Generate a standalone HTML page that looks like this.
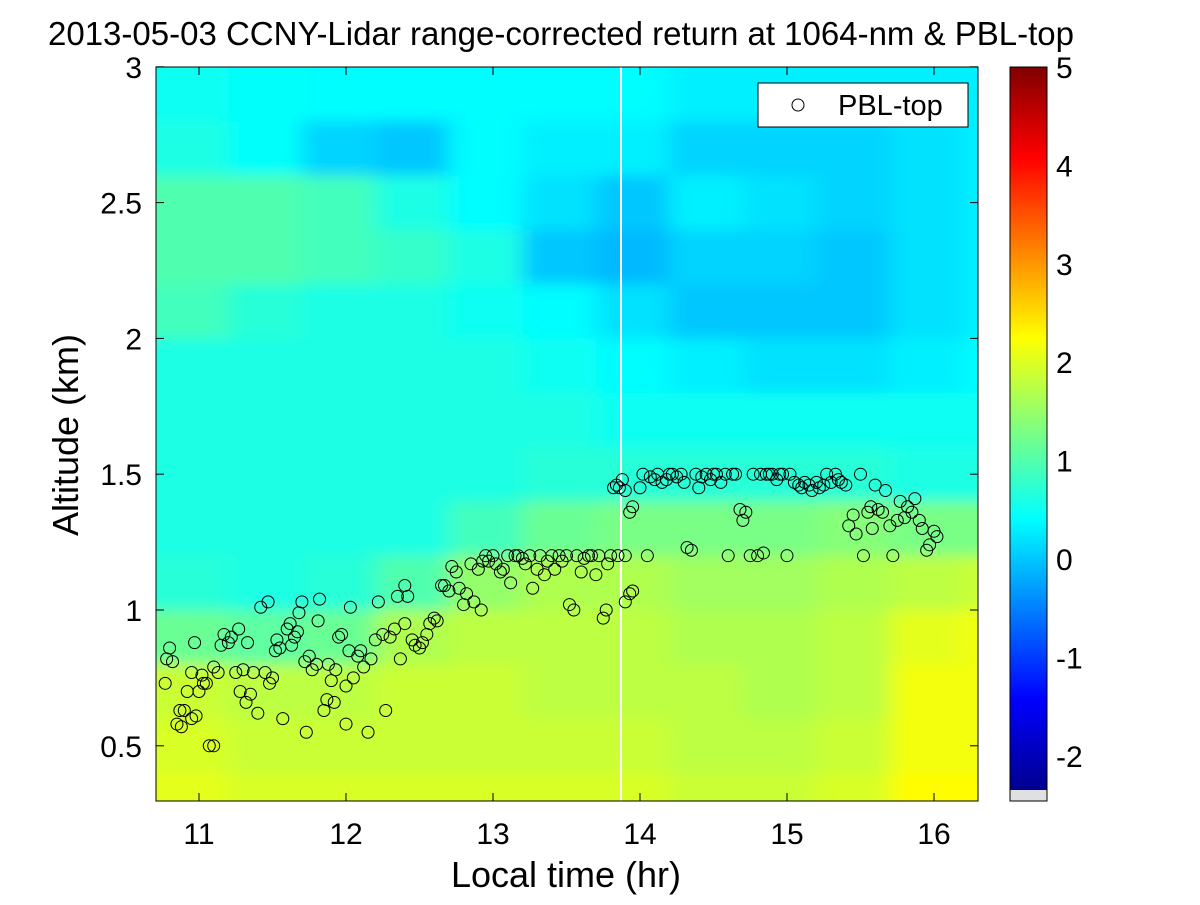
<!DOCTYPE html>
<html><head><meta charset="utf-8"><style>
body{margin:0;background:#fff;}
svg text{font-family:"Liberation Sans",Arial,sans-serif;}
</style></head><body>
<svg id="chart" width="1200" height="900" xmlns="http://www.w3.org/2000/svg">
<defs>
<clipPath id="plotclip"><rect x="156" y="67" width="822" height="734"/></clipPath>
<filter id="blur" x="-10%" y="-10%" width="120%" height="120%"><feGaussianBlur stdDeviation="11 7"/></filter>
<linearGradient id="jetbar" x1="0" y1="1" x2="0" y2="0">
<stop offset="0" stop-color="#00008f"/><stop offset="0.125" stop-color="#0000ff"/>
<stop offset="0.375" stop-color="#00ffff"/><stop offset="0.625" stop-color="#ffff00"/>
<stop offset="0.875" stop-color="#ff0000"/><stop offset="1" stop-color="#800000"/>
</linearGradient>
</defs>
<text x="561" y="45" font-size="33" text-anchor="middle">2013-05-03 CCNY-Lidar range-corrected return at 1064-nm &amp; PBL-top</text>
<g clip-path="url(#plotclip)"><rect x="156" y="67" width="822" height="734" fill="#3ce0ea"/><g id="heat" filter="url(#blur)"></g></g>
<g id="pts" clip-path="url(#plotclip)"></g>
<rect x="156" y="67" width="822" height="734" fill="none" stroke="#000" stroke-width="1"/>
<g id="axes"></g>
<g>
<rect x="758" y="83" width="210" height="44" fill="#fff" stroke="#000"/>
<circle cx="798" cy="105" r="6" fill="none" stroke="#000"/>
<text x="838" y="115" font-size="29">PBL-top</text>
</g>
<rect x="1010" y="67" width="37" height="723" fill="url(#jetbar)"/>
<rect x="1010" y="790" width="37" height="11" fill="#e0e0e0"/>
<rect x="1010" y="67" width="37" height="734" fill="none" stroke="#000"/>
<text x="566" y="887" font-size="36" text-anchor="middle">Local time (hr)</text>
<text transform="translate(78,435) rotate(-90)" font-size="36" text-anchor="middle">Altitude (km)</text>
</svg>
<script>
const xTicks=[11,12,13,14,15,16];
const yTicks=[0.5,1,1.5,2,2.5,3];
const yTickLabels=["0.5","1","1.5","2","2.5","3"];
const cTicks=[5,4,3,2,1,0,-1,-2];
const colEdges=[10.7,11.2,11.7,12.2,12.7,13.2,13.7,14.2,14.7,15.2,15.7,16.2];
const rowAlts=[2.9,2.7,2.5,2.3,2.1,1.9,1.7,1.5,1.3,1.1,0.9,0.7,0.5,0.3];
const heatVals=[
[0.4,0.35,0.3,0.3,0.3,0.3,0.3,0.2,0.2,0.2,0.2,0.2],
[0.5,0.35,0.0,-0.1,0.3,0.2,0.2,0.0,0.0,0.0,0.1,0.2],
[0.9,0.9,0.8,0.5,0.3,0.1,-0.1,0.2,0.1,0.0,0.1,0.2],
[0.9,0.9,0.8,0.7,0.5,-0.1,-0.2,0.0,0.0,-0.1,0.1,0.2],
[0.8,0.6,0.5,0.5,0.4,0.3,0.1,-0.1,-0.1,-0.1,0.1,0.2],
[0.5,0.5,0.5,0.5,0.5,0.4,0.3,0.2,0.1,0.1,0.2,0.3],
[0.5,0.5,0.5,0.5,0.5,0.5,0.4,0.4,0.4,0.4,0.4,0.4],
[0.5,0.5,0.5,0.5,0.5,0.6,0.6,0.6,0.6,0.6,0.5,0.5],
[0.5,0.5,0.5,0.5,0.8,1.1,1.2,1.2,1.2,1.3,1.2,1.2],
[0.6,0.5,0.6,0.9,1.4,1.6,1.6,1.5,1.5,1.6,1.7,1.8],
[1.1,1.0,1.1,1.6,1.7,1.7,1.7,1.6,1.6,1.7,2.0,2.1],
[1.8,1.7,1.7,1.8,1.8,1.7,1.7,1.7,1.6,1.7,2.1,2.1],
[1.9,1.8,1.8,1.8,1.8,1.8,1.8,1.7,1.7,1.8,2.1,2.1],
[2.0,1.9,1.9,1.9,1.9,1.9,1.9,1.8,1.8,1.9,2.2,2.2]];
const pblTime=[10.77,10.78,10.8,10.82,10.85,10.87,10.88,10.9,10.92,10.95,10.95,10.97,10.98,11.0,11.02,11.03,11.05,11.07,11.1,11.1,11.13,11.15,11.17,11.2,11.22,11.25,11.27,11.28,11.3,11.32,11.33,11.35,11.37,11.4,11.42,11.45,11.47,11.48,11.5,11.52,11.53,11.55,11.57,11.6,11.62,11.63,11.65,11.67,11.68,11.7,11.72,11.73,11.75,11.77,11.8,11.81,11.82,11.85,11.87,11.88,11.9,11.92,11.93,11.95,11.97,12.0,12.0,12.02,12.03,12.05,12.08,12.1,12.12,12.15,12.17,12.2,12.22,12.25,12.27,12.3,12.33,12.35,12.37,12.4,12.4,12.42,12.45,12.47,12.5,12.52,12.55,12.57,12.6,12.62,12.65,12.67,12.7,12.72,12.75,12.77,12.8,12.82,12.85,12.87,12.9,12.92,12.93,12.95,12.97,13.0,13.02,13.05,13.07,13.1,13.12,13.15,13.17,13.2,13.22,13.25,13.27,13.3,13.32,13.35,13.37,13.4,13.42,13.45,13.47,13.5,13.52,13.55,13.57,13.6,13.62,13.65,13.67,13.7,13.72,13.75,13.77,13.78,13.8,13.85,13.9,13.9,13.93,13.95,13.82,13.84,13.86,13.88,13.9,13.93,13.95,14.0,14.02,14.05,14.07,14.1,14.12,14.15,14.18,14.2,14.22,14.25,14.28,14.3,14.32,14.35,14.38,14.4,14.42,14.45,14.48,14.5,14.52,14.55,14.58,14.6,14.63,14.65,14.68,14.7,14.72,14.75,14.77,14.8,14.82,14.84,14.86,14.88,14.9,14.93,14.95,14.97,15.0,15.02,15.05,15.08,15.1,15.12,15.15,15.17,15.2,15.22,15.25,15.27,15.3,15.33,15.35,15.37,15.4,15.42,15.45,15.47,15.5,15.52,15.55,15.57,15.58,15.6,15.62,15.65,15.67,15.7,15.72,15.75,15.77,15.8,15.82,15.85,15.87,15.9,15.92,15.95,15.97,16.0,16.02,16.05,16.07,16.1,16.12];
const pblAlt=[0.73,0.82,0.86,0.81,0.58,0.63,0.57,0.63,0.7,0.6,0.77,0.88,0.61,0.7,0.76,0.73,0.73,0.5,0.79,0.5,0.77,0.87,0.91,0.88,0.9,0.77,0.93,0.7,0.78,0.66,0.88,0.69,0.77,0.62,1.01,0.77,1.03,0.73,0.75,0.85,0.89,0.86,0.6,0.93,0.95,0.87,0.9,0.92,0.99,1.03,0.81,0.55,0.83,0.78,0.8,0.96,1.04,0.63,0.67,0.8,0.74,0.66,0.78,0.9,0.91,0.72,0.58,0.85,1.01,0.75,0.83,0.85,0.79,0.55,0.82,0.89,1.03,0.91,0.63,0.9,0.93,1.05,0.82,0.95,1.09,1.05,0.89,0.87,0.86,0.88,0.91,0.95,0.97,0.96,1.09,1.09,1.07,1.16,1.14,1.08,1.02,1.06,1.17,1.03,1.15,1.0,1.18,1.2,1.18,1.2,1.17,1.14,1.15,1.2,1.1,1.2,1.2,1.19,1.17,1.2,1.08,1.15,1.2,1.13,1.18,1.2,1.15,1.2,1.18,1.2,1.02,1.0,1.2,1.14,1.19,1.2,1.2,1.13,1.2,0.97,1.0,1.17,1.2,1.2,1.2,1.03,1.06,1.07,1.45,1.46,1.45,1.48,1.44,1.36,1.38,1.45,1.5,1.2,1.49,1.48,1.5,1.47,1.48,1.5,1.5,1.49,1.5,1.47,1.23,1.22,1.5,1.45,1.49,1.5,1.48,1.5,1.5,1.47,1.5,1.2,1.5,1.5,1.37,1.33,1.36,1.2,1.5,1.2,1.5,1.21,1.5,1.5,1.5,1.48,1.5,1.5,1.2,1.5,1.47,1.46,1.45,1.47,1.46,1.44,1.47,1.45,1.46,1.5,1.47,1.5,1.48,1.47,1.46,1.31,1.35,1.28,1.5,1.2,1.36,1.38,1.3,1.46,1.37,1.36,1.44,1.31,1.2,1.33,1.4,1.34,1.38,1.36,1.41,1.33,1.3,1.22,1.24,1.29,1.27];

const NS="http://www.w3.org/2000/svg";
const xs=t=>199+(t-11)*147;
const ys=a=>610-(a-1)*271.6;
const cy=v=>67+(5-v)*98.4;
function jet(v){
  const n=Math.max(0,Math.min(1,(v+2.5)/7.5));
  const st=[[0,0,0,143],[0.125,0,0,255],[0.375,0,255,255],[0.625,255,255,0],[0.875,255,0,0],[1,128,0,0]];
  for(let i=1;i<st.length;i++){if(n<=st[i][0]){const a=st[i-1],b=st[i],f=(n-a[0])/(b[0]-a[0]);
    return `rgb(${Math.round(a[1]+f*(b[1]-a[1]))},${Math.round(a[2]+f*(b[2]-a[2]))},${Math.round(a[3]+f*(b[3]-a[3]))})`;}}
  return "rgb(128,0,0)";
}
function mk(tag,attrs,parent){const e=document.createElementNS(NS,tag);for(const k in attrs)e.setAttribute(k,attrs[k]);parent.appendChild(e);return e;}
const heat=document.getElementById('heat');
for(let r=0;r<rowAlts.length;r++){
  for(let c=0;c<colEdges.length;c++){
    let x0=xs(colEdges[c]),x1=xs(colEdges[c]+0.5);
    let y0=ys(rowAlts[r]+0.1),y1=ys(rowAlts[r]-0.1);
    if(c===0)x0-=60; if(c===colEdges.length-1)x1+=60;
    if(r===0)y0-=60; if(r===rowAlts.length-1)y1+=60;
    const e=mk('rect',{x:x0,y:y0,width:x1-x0+1,height:y1-y0+1,fill:jet(heatVals[r][c])},heat);
    
    
  }
}
const pts=document.getElementById('pts');
const wl=mk('line',{x1:621,y1:67,x2:621,y2:801,stroke:'#fff','stroke-width':2},pts);


for(let i=0;i<pblTime.length;i++){
  const e=mk('circle',{cx:xs(pblTime[i]),cy:ys(pblAlt[i]),r:6,fill:'none',stroke:'#000','stroke-width':1},pts);
  
  
}
const ax=document.getElementById('axes');
xTicks.forEach(t=>{
  const x=xs(t);
  mk('line',{x1:x,y1:801,x2:x,y2:793,stroke:'#000'},ax);
  mk('line',{x1:x,y1:67,x2:x,y2:75,stroke:'#000'},ax);
  const tx=mk('text',{x:x,y:844,'font-size':30,'text-anchor':'middle'},ax);tx.textContent=t;
  
  
});
yTicks.forEach((a,i)=>{
  const y=ys(a);
  mk('line',{x1:156,y1:y,x2:164,y2:y,stroke:'#000'},ax);
  mk('line',{x1:978,y1:y,x2:970,y2:y,stroke:'#000'},ax);
  const tx=mk('text',{x:142,y:y+11,'font-size':30,'text-anchor':'end'},ax);tx.textContent=yTickLabels[i];
  
  
});
cTicks.forEach(v=>{
  const y=cy(v);
  mk('line',{x1:1047,y1:y,x2:1040,y2:y,stroke:'#000'},ax);
  mk('line',{x1:1010,y1:y,x2:1017,y2:y,stroke:'#000'},ax);
  const tx=mk('text',{x:1056,y:y+11,'font-size':30},ax);tx.textContent=v;
  
  
});
</script>
</body></html>
